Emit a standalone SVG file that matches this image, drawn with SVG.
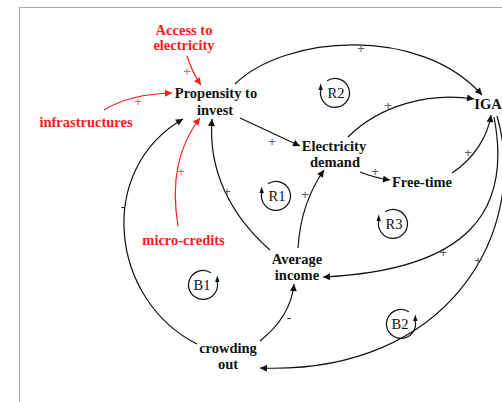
<svg xmlns="http://www.w3.org/2000/svg" xmlns:xlink="http://www.w3.org/1999/xlink" width="502" height="402" viewBox="0 0 502 402">
<style>
.n{font-family:"Liberation Serif",serif;font-weight:bold;font-size:14.5px;text-anchor:middle;fill:#111}
.r{fill:#ff1a1a}
.s{font-family:"Liberation Sans",sans-serif;font-size:13px;text-anchor:middle;fill:#606060}
.sr{fill:#f06060}
.m{fill:#111}
.l{font-family:"Liberation Serif",serif;font-size:14.5px;text-anchor:middle;fill:#111}
.c{fill:none;stroke:#111;stroke-width:1.2}
.cr{fill:none;stroke:#ff1a1a;stroke-width:1.2}
</style>
<defs>
<marker id="ab" viewBox="0 0 10 10" refX="10" refY="5" markerWidth="9" markerHeight="7" markerUnits="userSpaceOnUse" orient="auto"><path d="M0,0 L10,5 L0,10 z" fill="#111"/></marker>
<marker id="ar" viewBox="0 0 10 10" refX="10" refY="5" markerWidth="9" markerHeight="7" markerUnits="userSpaceOnUse" orient="auto"><path d="M0,0 L10,5 L0,10 z" fill="#ff1a1a"/></marker>
<g id="loop">
<path d="M-7.9,-12.2 A14.5,14.5 0 1 1 -14,-3.8" fill="none" stroke="#111" stroke-width="1.2"/>
<path d="M-14.3,-9.5 L-16.5,-3 L-12.1,-3 z" fill="#111"/>
</g>
</defs>
<rect x="19.5" y="7.5" width="500" height="420" fill="none" stroke="#aaa" stroke-width="1"/>
<g id="connectors">
<path class="cr" d="M187,56 Q192,72 201,85" marker-end="url(#ar)"/>
<path class="cr" d="M104,110 Q130,94 172,93" marker-end="url(#ar)"/>
<path class="cr" d="M178,226 C172,190 175,150 200,118" marker-end="url(#ar)"/>
<path class="c" d="M197,344 C110,300 95,170 183,119" marker-end="url(#ab)"/>
<path class="c" d="M270,250 C230,215 208,170 212,119" marker-end="url(#ab)"/>
<path class="c" d="M240,118 L300,146" marker-end="url(#ab)"/>
<path class="c" d="M235,84 C285,35 420,25 482,95" marker-end="url(#ab)"/>
<path class="c" d="M348,137 C380,105 430,92 474,99" marker-end="url(#ab)"/>
<path class="c" d="M298,248 C300,215 310,190 324,170" marker-end="url(#ab)"/>
<path class="c" d="M360,172 Q375,178 390,180" marker-end="url(#ab)"/>
<path class="c" d="M452,173 C475,158 488,135 491,115" marker-end="url(#ab)"/>
<path class="c" d="M494,117 C512,210 470,270 323,277" marker-end="url(#ab)"/>
<path class="c" d="M497,116 C530,230 450,375 260,368" marker-end="url(#ab)"/>
<path class="c" d="M260,341 C280,325 292,305 294,284" marker-end="url(#ab)"/>
</g>
<g id="signs">
<text class="s sr" x="187" y="76">+</text>
<text class="s sr" x="138" y="106">+</text>
<text class="s sr" x="181" y="176">+</text>
<text class="s m" x="123" y="211">-</text>
<text class="s" x="227" y="196">+</text>
<text class="s" x="272" y="146">+</text>
<text class="s" x="305" y="199">+</text>
<text class="s" x="361" y="53">+</text>
<text class="s" x="388" y="110">+</text>
<text class="s" x="375" y="176">+</text>
<text class="s" x="468" y="157">+</text>
<text class="s" x="443" y="257">+</text>
<text class="s" x="478" y="265">+</text>
<text class="s m" x="289" y="322">-</text>
</g>
<g id="access"><text class="n r" x="184" y="35">Access to</text><text class="n r" x="184" y="50">electricity</text></g>
<g id="infrastructures"><text class="n r" x="86" y="127">infrastructures</text></g>
<g id="microcredits"><text class="n r" x="183.5" y="245">micro-credits</text></g>
<g id="propensity"><text class="n" x="216" y="98">Propensity to</text><text class="n" x="215" y="115">invest</text></g>
<g id="electricity"><text class="n" x="334" y="150.5">Electricity</text><text class="n" x="335" y="166.5">demand</text></g>
<g id="freetime"><text class="n" x="422" y="187">Free-time</text></g>
<g id="iga"><text class="n" x="488" y="109">IGA</text></g>
<g id="income"><text class="n" x="297" y="264">Average</text><text class="n" x="297" y="279.5">income</text></g>
<g id="crowding"><text class="n" x="228" y="353">crowding</text><text class="n" x="228" y="369">out</text></g>
<g id="loops">
<use xlink:href="#loop" transform="translate(335,93)"/><text class="l" x="336" y="98">R2</text>
<use xlink:href="#loop" transform="translate(276,196)"/><text class="l" x="277" y="201">R1</text>
<use xlink:href="#loop" transform="translate(393,224)"/><text class="l" x="394" y="229">R3</text>
<use xlink:href="#loop" transform="translate(203,285) scale(-1,1)"/><text class="l" x="202" y="290">B1</text>
<use xlink:href="#loop" transform="translate(401,324) scale(-1,1)"/><text class="l" x="400" y="329">B2</text>
</g>
</svg>
